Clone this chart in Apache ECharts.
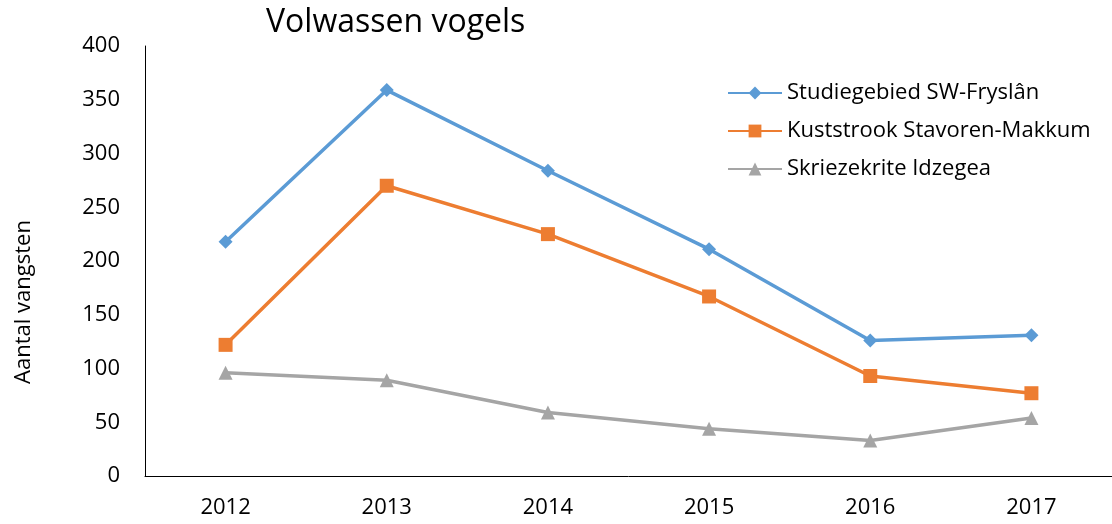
<!DOCTYPE html>
<html>
<head>
<meta charset="utf-8">
<script src="https://cdn.jsdelivr.net/npm/echarts@6/dist/echarts.min.js"></script>
<style>
html,body{margin:0;padding:0;background:#fff;}
#chart{width:1112px;height:524px;}
</style>
</head>
<body>
<div id="chart"></div>
<script>
var years=['2012','2013','2014','2015','2016','2017'];
var studiegebied=[218,359,284,211,126,131];
var kuststrook=[122,270,225,167,93,77];
var skriezekrite=[96,89,59,44,33,54];
var yTicks=[0,50,100,150,200,250,300,350,400];

var font='"Open Sans", "Noto Sans", sans-serif';

function makeSeries(name,data,color,symbol,size){
	return {
		name:name,
		type:'line',
		data:data,
		symbol:symbol,
		symbolSize:size,
		showAllSymbol:true,
		lineStyle:{color:color,width:3.5},
		itemStyle:{color:color},
		emphasis:{disabled:true}
	};
}

var chart=echarts.init(document.getElementById('chart'));
chart.setOption({
	animation:false,
	title:{
		text:'Volwassen vogels',
		left:261,
		top:2,
		textStyle:{fontFamily:font,fontSize:32,fontWeight:'normal',color:'#000'}
	},
	legend:{
		orient:'vertical',
		left:722,
		top:77,
		itemWidth:54,
		itemHeight:16,
		itemGap:16,
		textStyle:{fontFamily:font,fontSize:22,color:'#000'},
		data:['Studiegebied SW-Fryslân','Kuststrook Stavoren-Makkum','Skriezekrite Idzegea']
	},
	grid:{left:145,top:46,width:971,height:430},
	xAxis:{
		type:'category',
		data:years,
		boundaryGap:true,
		axisLine:{lineStyle:{color:'#000',width:1}},
		axisTick:{show:false},
		axisLabel:{fontFamily:font,fontSize:22,color:'#000',margin:21}
	},
	yAxis:{
		type:'value',
		min:yTicks[0],
		max:yTicks[yTicks.length-1],
		interval:50,
		name:'Aantal vangsten',
		nameLocation:'middle',
		nameGap:110,
		nameTextStyle:{fontFamily:font,fontSize:22,color:'#000',padding:[0,82,0,0]},
		axisLine:{show:true,lineStyle:{color:'#000',width:1}},
		axisTick:{show:false},
		splitLine:{show:false},
		axisLabel:{fontFamily:font,fontSize:22,color:'#000',margin:25}
	},
	series:[
		makeSeries('Studiegebied SW-Fryslân',studiegebied,'#5B9BD5','diamond',14),
		makeSeries('Kuststrook Stavoren-Makkum',kuststrook,'#ED7D31','rect',14),
		makeSeries('Skriezekrite Idzegea',skriezekrite,'#A5A5A5','triangle',14)
	]
});
</script>
</body>
</html>
